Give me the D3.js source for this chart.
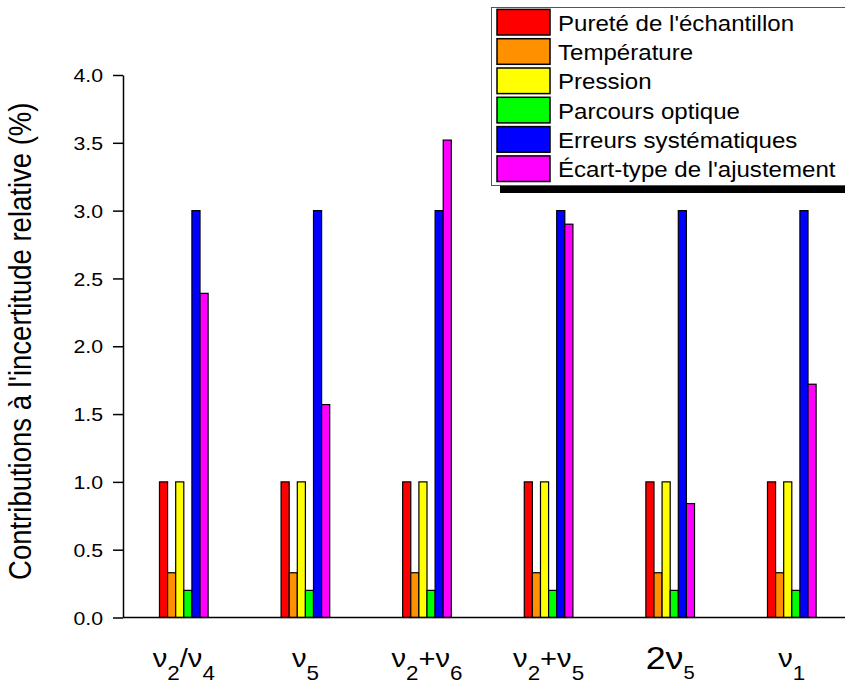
<!DOCTYPE html>
<html><head><meta charset="utf-8">
<script src="https://cdn.jsdelivr.net/npm/d3@7"></script>
<style>body{margin:0;background:#fff}svg{display:block}text{font-family:"Liberation Sans",Arial,sans-serif;fill:#000}</style>
</head><body><svg id="c" width="845" height="687"></svg>
<script>
const categories = ["ν2/ν4", "ν5", "ν2+ν6", "ν2+ν5", "2ν5", "ν1"];
const seriesNames = ["Pureté de l'échantillon", "Température", "Pression", "Parcours optique", "Erreurs systématiques", "Écart-type de l'ajustement"];
const seriesColors = ["#ff0000", "#ff9000", "#ffff00", "#00ff00", "#0000ff", "#ff00ff"];
const purete      = [1.0, 1.0, 1.0, 1.0, 1.0, 1.0];
const temperature = [0.33, 0.33, 0.33, 0.33, 0.33, 0.33];
const pression    = [1.0, 1.0, 1.0, 1.0, 1.0, 1.0];
const parcours    = [0.2, 0.2, 0.2, 0.2, 0.2, 0.2];
const erreurs     = [3.0, 3.0, 3.0, 3.0, 3.0, 3.0];
const ecartType   = [2.39, 1.57, 3.52, 2.90, 0.84, 1.72];
const yTicks = [0, 0.5, 1.0, 1.5, 2.0, 2.5, 3.0, 3.5, 4.0];
const yTitle = "Contributions à l'incertitude relative (%)";

const seriesValues = [purete, temperature, pression, parcours, erreurs, ecartType];
const SX = 1.12; // horizontal text stretch seen in the reference

const svg = d3.select("#c");
const x0 = d3.scaleBand().domain(categories).range([123, 123 + 6 * 121.6]).paddingInner(0.6).paddingOuter(0.3);
const x1 = d3.scaleBand().domain(d3.range(seriesNames.length)).range([0, x0.bandwidth()]);
const y = d3.scaleLinear().domain([0, 4]).range([617.5, 75]);

// bars
categories.forEach((c, ci) => {
  const g = svg.append("g").attr("transform", `translate(${x0(c)},0)`);
  seriesValues.forEach((vals, si) => {
    g.append("rect")
      .attr("x", x1(si)).attr("width", x1.bandwidth())
      .attr("y", y(vals[ci])).attr("height", y(0) - y(vals[ci]))
      .attr("fill", seriesColors[si]).attr("stroke", "#000").attr("stroke-width", 1.2);
  });
});

// y axis
const yAxis = svg.append("g").attr("transform", "translate(123,0)")
  .call(d3.axisLeft(y).tickValues(yTicks).tickFormat(d3.format(".1f")).tickSize(10).tickPadding(10).tickSizeOuter(0));
yAxis.select(".domain").attr("stroke-width", 1.5);
yAxis.selectAll(".tick line").attr("stroke-width", 1.5);
yAxis.selectAll(".tick text").each(function() {
  const t = d3.select(this);
  const tx = +t.attr("x");
  t.attr("x", null).attr("transform", `translate(${tx},0) scale(${SX},1)`);
}).attr("font-size", 19).attr("dy", "0.35em").attr("fill", "#000");

// x axis baseline
svg.append("line").attr("x1", 123).attr("x2", 845).attr("y1", y(0)).attr("y2", y(0)).attr("stroke", "#000").attr("stroke-width", 1.5);

// x labels with subscripts
categories.forEach(c => {
  const big = /^\d/.test(c);
  const fs = big ? 32 : 26;
  const base = big ? 669 : 667;
  const subFs = big ? 18 : 20;
  const subDy = big ? 10 : 13;
  const g = svg.append("g").attr("transform", `translate(${x0(c) + x0.bandwidth() / 2},${base}) scale(${SX},1)`);
  const t = g.append("text").attr("text-anchor", "middle").attr("font-size", fs);
  const parts = c.match(/ν\d|[^ν]+|ν/g);
  let sub = false;
  parts.forEach(p => {
    if (p.length === 2 && p[0] === "ν") {
      t.append("tspan").text("ν").attr("dy", sub ? -subDy : 0);
      t.append("tspan").text(p[1]).attr("font-size", subFs).attr("dy", subDy);
      sub = true;
    } else {
      t.append("tspan").text(p).attr("dy", sub ? -subDy : 0);
      sub = false;
    }
  });
});

// y title
svg.append("text")
  .attr("transform", `translate(31,${(y(0) + y(4)) / 2 - 5}) rotate(-90) scale(1,${SX})`)
  .attr("text-anchor", "middle").attr("font-size", 27.5).text(yTitle);

// legend
const lg = svg.append("g");
lg.append("rect").attr("x", 500).attr("y", 15).attr("width", 360).attr("height", 178).attr("fill", "#000");
lg.append("rect").attr("x", 491.5).attr("y", 7.5).attr("width", 370).attr("height", 178).attr("fill", "#fff").attr("stroke", "#555").attr("stroke-width", 1);
seriesNames.forEach((n, i) => {
  const cy = 22.2 + i * 29.3;
  lg.append("rect").attr("x", 497).attr("y", cy - 12.8).attr("width", 53).attr("height", 25.6)
    .attr("fill", seriesColors[i]).attr("stroke", "#000").attr("stroke-width", 1.5);
  lg.append("text").attr("transform", `translate(558,${cy + 8.5}) scale(${SX},1)`).attr("font-size", 21.5).text(n);
});
</script></body></html>
